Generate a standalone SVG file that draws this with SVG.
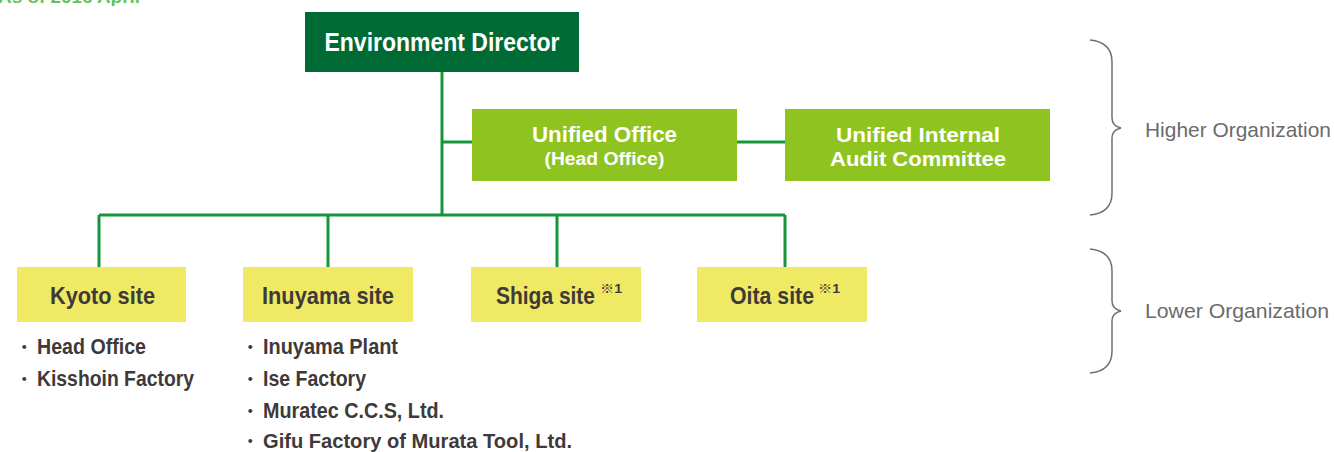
<svg xmlns="http://www.w3.org/2000/svg" width="1334" height="452" viewBox="0 0 1334 452">
<style>
.t{font-family:"Liberation Sans",Arial,sans-serif;font-weight:bold;}
.w{fill:#ffffff;text-anchor:middle;}
.d{fill:#3e3a39;}
.g{font-family:"Liberation Sans",Arial,sans-serif;fill:#6b6b6b;font-size:21px;}
.site{fill:#efe964;}
.uni{fill:#8fc31f;}
.ln{stroke:#16963a;stroke-width:3;fill:none;}
.br{stroke:#707070;stroke-width:1.5;fill:none;}
.sup{font-family:"Liberation Sans","Noto Sans CJK JP",sans-serif;font-size:13px;}
</style>
<rect width="1334" height="452" fill="#ffffff"/>
<text class="t" x="-2" y="3" font-size="16" fill="#66c257" textLength="142" lengthAdjust="spacingAndGlyphs">As of 2016 April</text>
<g id="connectors">
<path class="ln" d="M442,72 V215 M99,215 H785 M99,215 V267 M328,215 V267 M557,215 V267 M785,215 V267 M442,142 H472 M737,142 H785"/>
</g>
<g id="director">
<rect x="305" y="12" width="274" height="60" fill="#006a35"/>
<text class="t w" x="442" y="51" font-size="25" textLength="235" lengthAdjust="spacingAndGlyphs">Environment Director</text>
</g>
<g id="unified-office">
<rect class="uni" x="472" y="109" width="265" height="72"/>
<text class="t w" x="604.5" y="142" font-size="22" textLength="145" lengthAdjust="spacingAndGlyphs">Unified Office</text>
<text class="t w" x="604.5" y="165" font-size="18" textLength="120" lengthAdjust="spacingAndGlyphs">(Head Office)</text>
</g>
<g id="audit-committee">
<rect class="uni" x="785" y="109" width="265" height="72"/>
<text class="t w" x="918" y="142" font-size="21" textLength="164" lengthAdjust="spacingAndGlyphs">Unified Internal</text>
<text class="t w" x="918" y="166" font-size="21" textLength="176" lengthAdjust="spacingAndGlyphs">Audit Committee</text>
</g>
<g id="kyoto">
<rect class="site" x="17" y="267" width="169" height="55"/>
<text class="t d" x="50" y="304" font-size="24" textLength="105" lengthAdjust="spacingAndGlyphs">Kyoto site</text>
<text class="t d" x="14" y="354" font-size="20">・</text>
<text class="t d" x="37" y="354" font-size="22" textLength="109" lengthAdjust="spacingAndGlyphs">Head Office</text>
<text class="t d" x="14" y="386" font-size="20">・</text>
<text class="t d" x="37" y="386" font-size="22" textLength="157" lengthAdjust="spacingAndGlyphs">Kisshoin Factory</text>
</g>
<g id="inuyama">
<rect class="site" x="243" y="267" width="170" height="55"/>
<text class="t d" x="262" y="304" font-size="24" textLength="132" lengthAdjust="spacingAndGlyphs">Inuyama site</text>
<text class="t d" x="240" y="354" font-size="20">・</text>
<text class="t d" x="263" y="354" font-size="22" textLength="135" lengthAdjust="spacingAndGlyphs">Inuyama Plant</text>
<text class="t d" x="240" y="386" font-size="20">・</text>
<text class="t d" x="263" y="386" font-size="22" textLength="103" lengthAdjust="spacingAndGlyphs">Ise Factory</text>
<text class="t d" x="240" y="418" font-size="20">・</text>
<text class="t d" x="263" y="418" font-size="22" textLength="181" lengthAdjust="spacingAndGlyphs">Muratec C.C.S, Ltd.</text>
<text class="t d" x="240" y="448" font-size="20">・</text>
<text class="t d" x="263" y="448" font-size="21" textLength="309" lengthAdjust="spacingAndGlyphs">Gifu Factory of Murata Tool, Ltd.</text>
</g>
<g id="shiga">
<rect class="site" x="471" y="267" width="170" height="55"/>
<text class="t d" x="496" y="304" font-size="24"><tspan textLength="99" lengthAdjust="spacingAndGlyphs">Shiga site</tspan><tspan class="sup" x="600" y="293" textLength="22" lengthAdjust="spacingAndGlyphs">※1</tspan></text>
</g>
<g id="oita">
<rect class="site" x="697" y="267" width="170" height="55"/>
<text class="t d" x="730" y="304" font-size="24"><tspan textLength="84" lengthAdjust="spacingAndGlyphs">Oita site</tspan><tspan class="sup" x="818" y="293" textLength="22" lengthAdjust="spacingAndGlyphs">※1</tspan></text>
</g>
<g id="higher-organization">
<path class="br" d="M1090,40 Q1112,42 1112,62 L1112,118 Q1112,126 1121,128 Q1112,130 1112,138 L1112,193 Q1112,213 1090,215"/>
<text class="g" x="1145" y="137" textLength="186" lengthAdjust="spacingAndGlyphs">Higher Organization</text>
</g>
<g id="lower-organization">
<path class="br" d="M1090,249 Q1112,251 1112,271 L1112,301 Q1112,309 1121,311 Q1112,313 1112,321 L1112,351 Q1112,371 1090,373"/>
<text class="g" x="1145" y="318" textLength="184" lengthAdjust="spacingAndGlyphs">Lower Organization</text>
</g>
</svg>
